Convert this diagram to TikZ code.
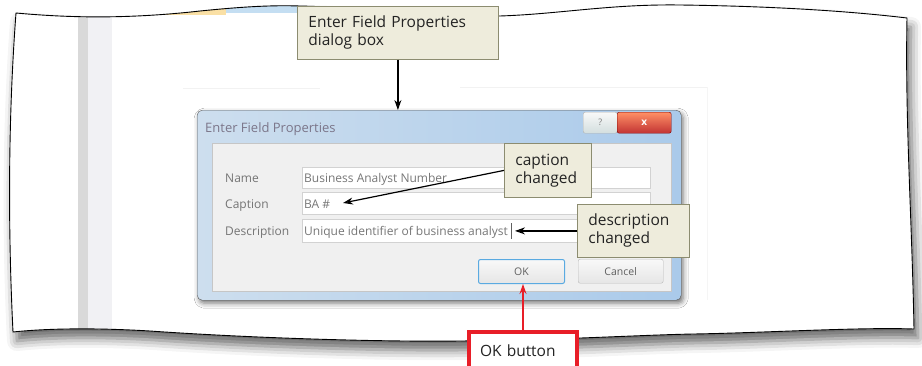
\documentclass[tikz,border=0pt]{standalone}
\usepackage{fontspec}
\setmainfont{Open Sans}
\usetikzlibrary{arrows.meta,shadows.blur}

\definecolor{calloutfill}{RGB}{238,236,220}
\definecolor{calloutline}{RGB}{140,140,112}
\definecolor{okred}{RGB}{232,30,40}
\definecolor{dlgtextgray}{RGB}{95,95,95}
\definecolor{clientgray}{RGB}{240,240,240}
\definecolor{tabyellow}{RGB}{250,224,165}
\definecolor{tabblue}{RGB}{196,222,242}
\definecolor{framelight}{RGB}{205,222,238}
\definecolor{framedark}{RGB}{170,202,234}
\definecolor{titletext}{RGB}{110,100,120}
\definecolor{focusblue}{RGB}{90,170,225}

\tikzset{
    callout/.style={draw=calloutline, fill=calloutfill, line width=0.8pt, anchor=north west,
        inner xsep=11pt, align=left, text={rgb,255:red,35;green,35;blue,35}, font=\fontsize{15.5}{18}\selectfont},
    pointer/.style={-{Stealth[length=10pt,width=7pt]}, line width=1.2pt},
    dlgtext/.style={text=dlgtextgray, font=\fontsize{12}{14}\selectfont, inner sep=0pt, anchor=base west, opacity=0.85},
    field/.style={draw=gray!35, fill=white, anchor=north west, minimum width=348pt, inner sep=0pt},
    dlgbutton/.style={draw=gray!55, rounded corners=2pt, top color=gray!5, bottom color=gray!20, anchor=north west,
        minimum width=86pt, minimum height=24pt, inner sep=0pt, text=dlgtextgray, font=\fontsize{10.5}{12}\selectfont}
}

% wavy sheet the screenshot sits on
\def\paperoutline{(16,13) .. controls (60,17) and (120,20) .. (200,11)
    .. controls (240,7) and (270,5) .. (300,6)
    .. controls (380,8) and (450,17) .. (500,16)
    .. controls (560,14) and (610,4) .. (680,5)
    .. controls (760,6) and (840,10) .. (907,18)
    .. controls (905,120) and (912,220) .. (914,329)
    .. controls (860,327) and (760,333) .. (693,334)
    .. controls (640,335) and (560,340) .. (460,341)
    .. controls (380,342) and (250,338) .. (150,331)
    .. controls (100,328) and (50,328) .. (13,332)
    .. controls (8,230) and (8,120) .. (16,13) -- cycle}

\begin{document}
\begin{tikzpicture}[x=1pt, y=-1pt]
    \useasboundingbox (0,0) rectangle (922,365);

    \fill[white, blur shadow={shadow xshift=4pt, shadow yshift=-9pt, shadow blur radius=10pt, shadow opacity=60}] \paperoutline;

    % bits of the window behind the dialog
    \begin{scope}
        \clip \paperoutline;
        \fill[gray!30] (78,0) rectangle (88,365);
        \fill[blue!10!gray!10] (88,0) rectangle (112,365);
        \fill[tabyellow] (160,0) rectangle (226,15);
        \fill[tabblue] (226,0) rectangle (320,13);
        \draw[gray!10] (183,88) -- (320,88) (460,87) -- (707,87);
        \draw[gray!8] (707,87) -- (707,300);
    \end{scope}

    % dialog frame and client area
    \node[draw=gray!70!black, rounded corners=5pt, left color=framelight, right color=framedark,
        minimum width=484pt, minimum height=190pt, anchor=north west, inner sep=0pt,
        blur shadow={shadow xshift=2pt, shadow yshift=-3pt, shadow blur radius=5pt, shadow opacity=55}] (dlg) at (197,110) {};
    \node[draw=gray!45, fill=clientgray, minimum width=459pt, minimum height=148pt, anchor=north west, inner sep=0pt] (client) at (212,143) {};
    \node[dlgtext, text=titletext, font=\fontsize{13}{14}\selectfont] (dlgtitle) at (205,132) {Enter Field Properties};

    % title bar buttons
    \node[draw=gray!60, rounded corners=2pt, top color=gray!5, bottom color=cyan!15!gray!30, minimum width=34pt, minimum height=21pt,
        anchor=north west, inner sep=0pt, text=gray, font=\fontsize{9}{10}\selectfont] (helpbtn) at (583,112) {?};
    \node[draw=red!50!black, rounded corners=2pt, top color=red!45!orange!60, bottom color=red!70!black!80, minimum width=54pt, minimum height=21pt,
        anchor=north west, inner sep=0pt, text=white, font=\bfseries\fontsize{10}{10}\selectfont] (closebtn) at (617,112) {x};

    % fields and their labels
    \node[dlgtext] (namelbl) at (225,182) {Name};
    \node[dlgtext] (caplbl) at (225,208) {Caption};
    \node[dlgtext] (desclbl) at (225,235) {Description};
    \node[field, minimum height=21pt] (namefield) at (302,167) {};
    \node[field, minimum height=22pt] (capfield) at (302,192) {};
    \node[field, minimum height=23pt] (descfield) at (302,219) {};
    \node[dlgtext] (nametxt) at (304,182) {Business Analyst Number};
    \node[dlgtext] (captxt) at (304,208) {BA \#};
    \node[dlgtext] (desctxt) at (304,235) {Unique identifier of business analyst};
    \draw[dlgtextgray] (511,223) -- (511,239);

    \node[dlgbutton, draw=focusblue, line width=1pt] (okbtn) at (478,259) {OK};
    \node[dlgbutton, minimum width=85pt] (cancelbtn) at (578,259) {Cancel};

    \draw[line width=0.9pt] \paperoutline;

    % callouts
    \node[callout, text width=179pt, minimum height=53pt] (dlgcall) at (297,6) {Enter Field Properties\\dialog box};
    \node[callout, text width=65pt, minimum height=54pt] (capcall) at (504,143) {caption\\changed};
    \node[callout, text width=90pt, minimum height=53pt] (desccall) at (577,204) {description\\changed};
    \node[draw=okred, fill=white, line width=4pt, anchor=north west, text width=86pt, inner xsep=11pt, inner ysep=13pt,
        text height=11pt, text depth=20pt, align=left, text={rgb,255:red,35;green,35;blue,35},
        font=\fontsize{15.5}{18}\selectfont] (okcall) at (467,330) {OK button};

    \coordinate (captip) at (343,203);
    \coordinate (desctip) at (515,231);

    \draw[pointer] (dlgcall.south) -- (dlgcall.south |- dlg.north);
    \draw[pointer] (capcall.west) -- (captip);
    \draw[pointer] (desccall.west) -- (desccall.west -| desctip);
    \draw[pointer, okred] (okcall.north) -- (okcall.north |- okbtn.south);
\end{tikzpicture}
\end{document}
